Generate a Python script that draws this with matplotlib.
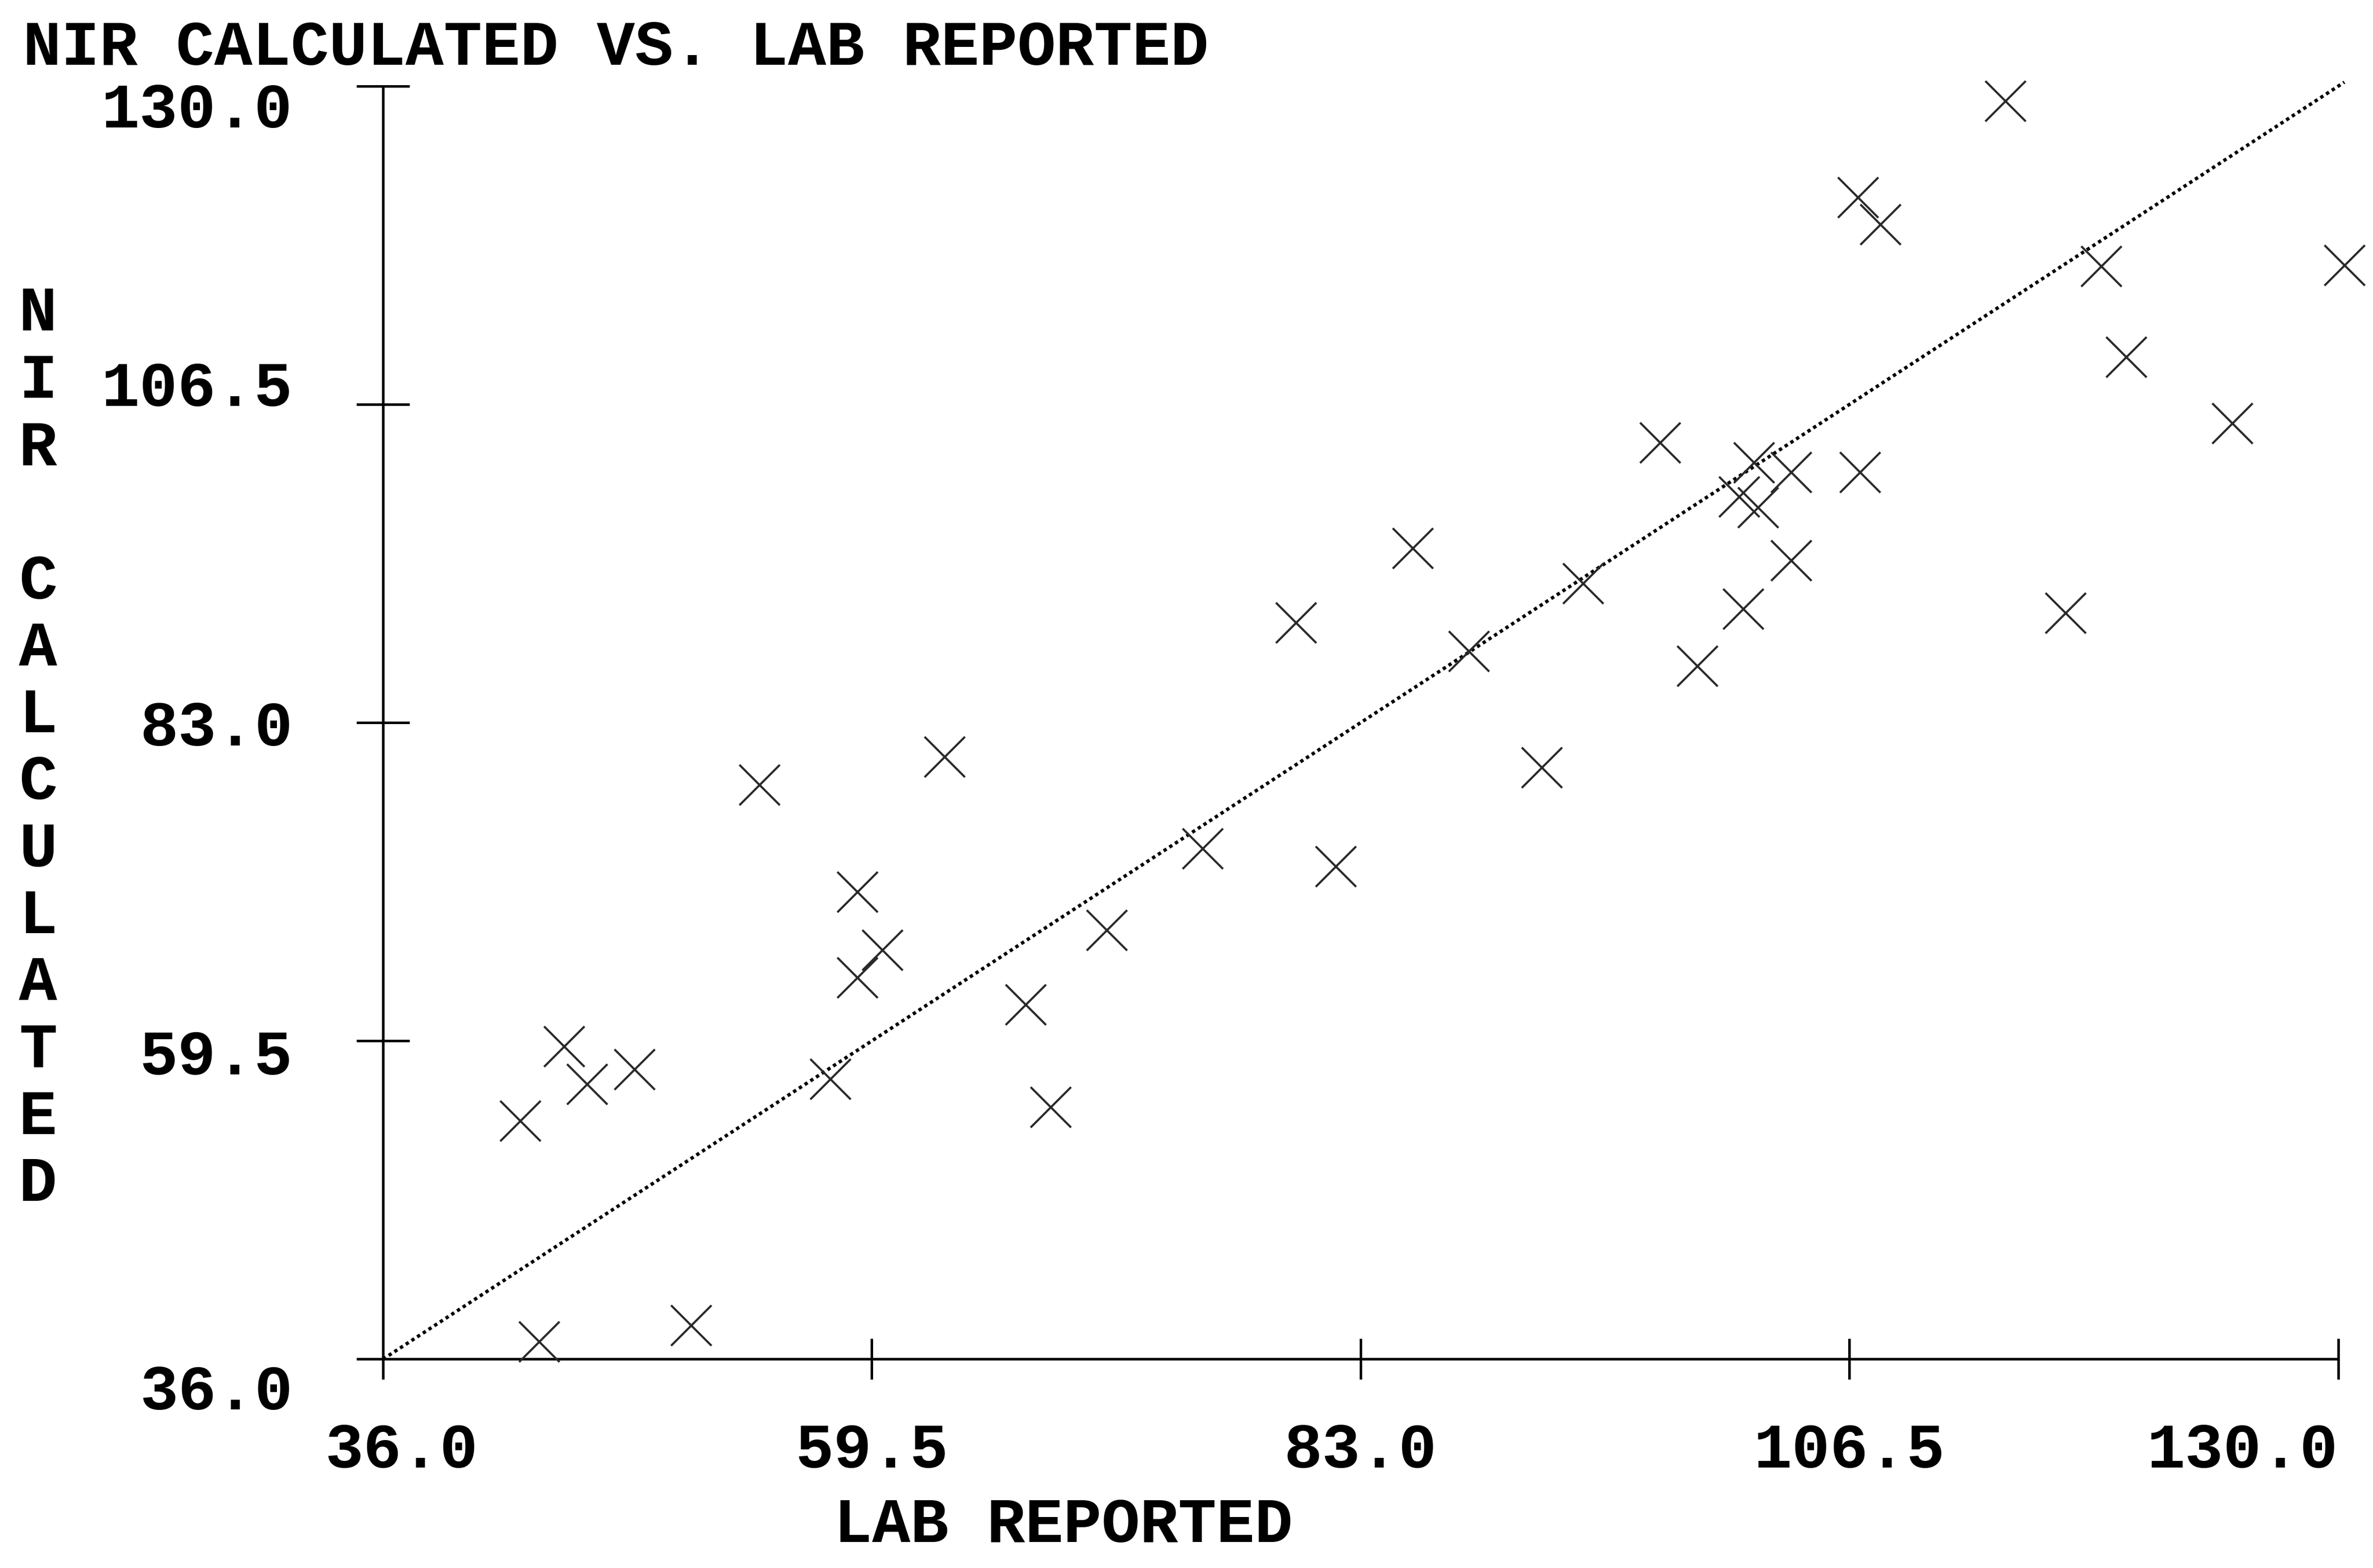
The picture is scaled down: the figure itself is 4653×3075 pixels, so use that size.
import matplotlib
matplotlib.use('Agg')
import matplotlib.pyplot as plt
from matplotlib.transforms import ScaledTranslation

plt.rcParams['font.family'] = ['Liberation Mono', 'DejaVu Sans Mono']
plt.rcParams['font.weight'] = 'bold'

# lab reported vs NIR calculated values
lab = [114.0, 106.9, 108.0, 118.6, 130.3, 119.8, 124.9, 97.4, 101.9, 103.7,
       107.0, 101.2, 102.1, 85.5, 103.7, 93.7, 101.4, 116.9, 79.9, 88.2,
       99.2, 91.7, 63.0, 54.1, 75.4, 81.8, 58.8, 60.0, 58.8, 70.8,
       66.9, 44.7, 48.1, 45.8, 57.5, 68.1, 42.6, 43.5, 50.8]
nir = [128.9, 121.8, 119.8, 116.7, 116.8, 110.0, 105.1, 103.7, 102.2, 101.5,
       101.5, 99.7, 98.9, 95.9, 95.0, 93.3, 91.4, 91.1, 90.4, 88.3,
       87.2, 79.7, 80.5, 78.4, 73.7, 72.4, 70.5, 66.2, 64.2, 67.7,
       62.2, 59.1, 57.4, 56.3, 56.7, 54.6, 53.6, 37.3, 38.5]
fit_x = [36.0, 130.3]
fit_y = [36.0, 130.3]
ticks = [36.0, 59.5, 83.0, 106.5, 130.0]
tick_labels = ['36.0', '59.5', '83.0', '106.5', '130.0']

fig = plt.figure(figsize=(15.51, 10.25), dpi=300)
ax = fig.add_axes([0.1614, 0.1332, 0.8239, 0.8118])
ax.set_xlim(36, 130)
ax.set_ylim(36, 130)

ax.plot(fit_x, fit_y, color='black', lw=1.6, ls=(0, (1, 1.0)), clip_on=False)
ax.scatter(lab, nir, marker='x', s=19**2, color='#2a2a2a', linewidths=1.0,
           clip_on=False, zorder=3)

for s in ['top', 'right']:
    ax.spines[s].set_visible(False)
for s in ['left', 'bottom']:
    ax.spines[s].set_linewidth(1.2)
    ax.spines[s].set_color('black')

ax.set_xticks(ticks)
ax.set_xticklabels(tick_labels)
ax.set_yticks(ticks)
ax.set_yticklabels(tick_labels)
ax.tick_params(axis='x', direction='inout', length=19, width=1.2, pad=20, labelsize=30)
ax.tick_params(axis='y', direction='inout', length=25, width=1.2, pad=30, labelsize=30)

xl = ax.get_xticklabels()
xl[-1].set_ha('right')
xl[0].set_transform(xl[0].get_transform() + ScaledTranslation(0.12, 0, fig.dpi_scale_trans))
# old screen text rows don't sit exactly on the ticks (36.0 .. 130.0)
dy = [-0.18, -0.07, 0.0, 0.14, -0.12]
for lbl, d in zip(ax.get_yticklabels(), dy):
    lbl.set_transform(lbl.get_transform() + ScaledTranslation(0, d, fig.dpi_scale_trans))

fig.text(0.0096, 0.969, 'NIR CALCULATED VS. LAB REPORTED', fontsize=30,
         ha='left', va='center')
fig.text(0.448, 0.027, 'LAB REPORTED', fontsize=30, ha='center', va='center')
fig.text(0.016, 0.522, '\n'.join('NIR CALCULATED'), fontsize=30,
         ha='center', va='center', linespacing=1.17)

fig.savefig('out.png', dpi=300)
